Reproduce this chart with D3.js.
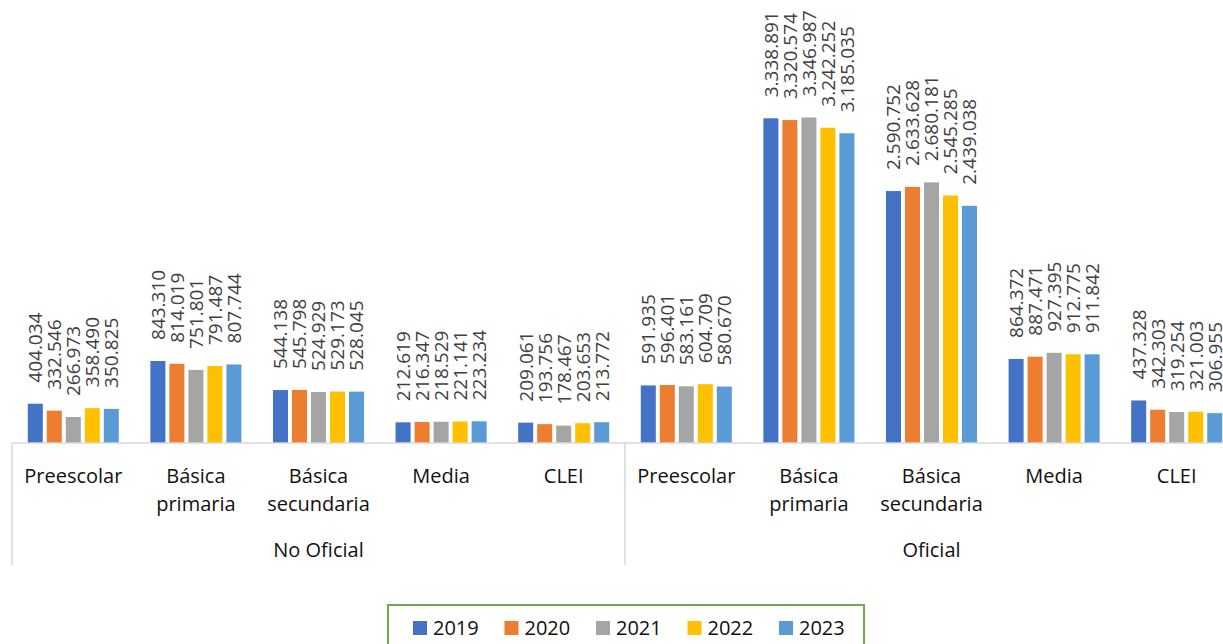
<!DOCTYPE html>
<html>
<head>
<meta charset="utf-8">
<script src="https://cdn.jsdelivr.net/npm/d3@7"></script>
<style>
  body { margin: 0; background: #fff; }
  svg { display: block; font-family: "Open Sans", sans-serif; }
</style>
</head>
<body>
<div id="chart"></div>
<script>
// DATA //
let sectors = ["No Oficial", "Oficial"];
let levels = ["Preescolar", "Básica primaria", "Básica secundaria", "Media", "CLEI"];
let levelLines = [["Preescolar"], ["Básica", "primaria"], ["Básica", "secundaria"], ["Media"], ["CLEI"]];
let years = ["2019", "2020", "2021", "2022", "2023"];
let colors = ["#4472C4", "#ED7D31", "#A5A5A5", "#FFC000", "#5B9BD5"];

// values per sector, per level, per year
let noOficial = [
    [404034, 332546, 266973, 358490, 350825],
    [843310, 814019, 751801, 791487, 807744],
    [544138, 545798, 524929, 529173, 528045],
    [212619, 216347, 218529, 221141, 223234],
    [209061, 193756, 178467, 203653, 213772]
];
let oficial = [
    [591935, 596401, 583161, 604709, 580670],
    [3338891, 3320574, 3346987, 3242252, 3185035],
    [2590752, 2633628, 2680181, 2545285, 2439038],
    [864372, 887471, 927395, 912775, 911842],
    [437328, 342303, 319254, 321003, 306955]
];

// build flat category list
let cats = [];
[noOficial, oficial].forEach((sector, si) => {
    sector.forEach((vals, li) => {
        cats.push({key: si + "-" + li, sector: sectors[si], level: li, values: vals});
    });
});

// DIMENSIONS //
let width = 1223, height = 644;
let left = 12, catWidth = 122.6, baseY = 443;

let svg = d3.select("#chart").append("svg")
    .attr("width", width)
    .attr("height", height);

// scales
let x0 = d3.scaleBand()
    .domain(cats.map(d => d.key))
    .range([left, left + catWidth * cats.length]);

let x1 = d3.scaleBand()
    .domain(years)
    .range([0, x0.bandwidth()])
    .paddingInner(0.21)
    .paddingOuter(0.83);

let y = d3.scaleLinear()
    .domain([0, 4000000])
    .range([baseY, 54]);

let color = d3.scaleOrdinal().domain(years).range(colors);

let fmt = d3.formatLocale({decimal: ",", thousands: ".", grouping: [3], currency: ["$", ""]}).format(",d");

// BARS //
let groups = svg.append("g").selectAll("g")
    .data(cats)
    .join("g")
    .attr("transform", d => "translate(" + x0(d.key) + ",0)");

let bars = groups.selectAll("rect")
    .data(d => d.values.map((v, i) => ({year: years[i], value: v})))
    .join("rect")
    .attr("x", d => x1(d.year))
    .attr("y", d => y(d.value))
    .attr("width", x1.bandwidth())
    .attr("height", d => y(0) - y(d.value))
    .attr("fill", d => color(d.year));

// data labels, rotated
groups.selectAll("text")
    .data(d => d.values.map((v, i) => ({year: years[i], value: v})))
    .join("text")
    .attr("transform", d => "translate(" + (x1(d.year) + x1.bandwidth() / 2) + "," + (y(d.value) - 21) + ") rotate(-90)")
    .attr("dy", "0.36em")
    .attr("text-anchor", "start")
    .style("font-size", "19px")
    .style("fill", "#404040")
    .text(d => fmt(d.value));

// AXIS //
let axisRight = left + catWidth * cats.length;
svg.append("line")
    .attr("x1", left).attr("x2", axisRight)
    .attr("y1", baseY).attr("y2", baseY)
    .attr("stroke", "#d9d9d9").attr("stroke-width", 1.5);

// vertical separators of the sector row
[0, levels.length, cats.length].forEach(i => {
    let xx = left + catWidth * i;
    svg.append("line")
        .attr("x1", xx).attr("x2", xx)
        .attr("y1", baseY).attr("y2", 565)
        .attr("stroke", "#d9d9d9").attr("stroke-width", 1.5);
});

// level labels
let catLabels = svg.append("g").selectAll("text")
    .data(cats)
    .join("text")
    .attr("x", d => x0(d.key) + x0.bandwidth() / 2)
    .attr("y", 483)
    .attr("text-anchor", "middle")
    .style("font-size", "20px")
    .style("fill", "#111");

catLabels.selectAll("tspan")
    .data(d => levelLines[d.level])
    .join("tspan")
    .attr("x", function() { return d3.select(this.parentNode).attr("x"); })
    .attr("dy", (d, i) => i == 0 ? 0 : 28)
    .text(d => d);

// sector labels
sectors.forEach((s, si) => {
    svg.append("text")
        .attr("x", left + catWidth * levels.length * (si + 0.5))
        .attr("y", 557)
        .attr("text-anchor", "middle")
        .style("font-size", "20px")
        .style("fill", "#111")
        .text(s);
});

// LEGEND //
svg.append("rect")
    .attr("x", 388).attr("y", 605)
    .attr("width", 476).attr("height", 60)
    .attr("fill", "#fff")
    .attr("stroke", "#70AD47").attr("stroke-width", 2);

let legend = svg.append("g").selectAll("g")
    .data(years)
    .join("g")
    .attr("transform", (d, i) => "translate(" + (413 + i * 91.5) + ",621)");

legend.append("rect")
    .attr("width", 14).attr("height", 14)
    .attr("fill", d => color(d));

legend.append("text")
    .attr("x", 20).attr("y", 14)
    .style("font-size", "20px")
    .style("fill", "#111")
    .text(d => d);
</script>
</body>
</html>
